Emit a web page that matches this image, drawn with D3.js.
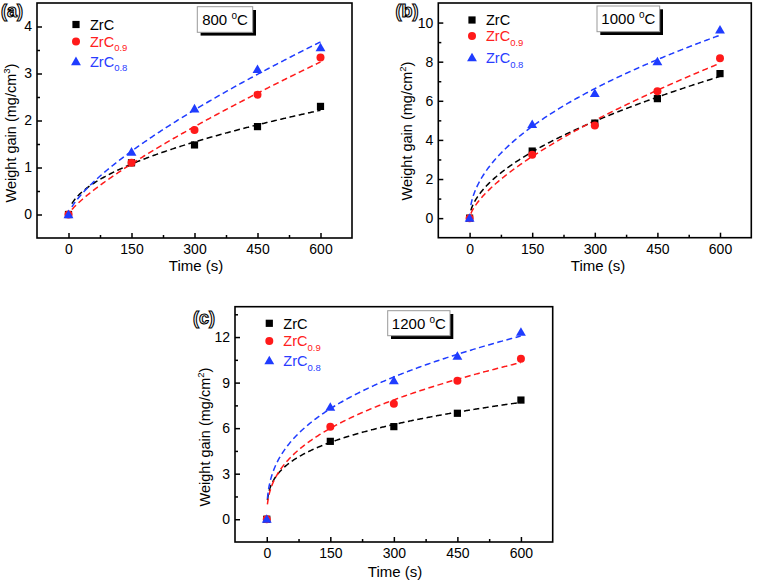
<!DOCTYPE html>
<html><head><meta charset="utf-8">
<script src="https://cdn.jsdelivr.net/npm/d3@7/dist/d3.min.js"></script>
<style>body{margin:0;background:#fff}svg{display:block}text{font-family:"Liberation Sans",Arial,sans-serif}</style>
</head><body>
<script>
// ---------- data ----------
const times = [0, 150, 300, 450, 600];
const seriesNames = ["ZrC", "ZrC", "ZrC"];
const seriesSubs = ["", "0.9", "0.8"];
const temps = ["800", "1000", "1200"];
const panelLetters = ["(a)", "(b)", "(c)"];
const yUnitsSup = ["3", "2", "2"];
const xTicks = [0, 150, 300, 450, 600];
const yTicksA = [0, 1, 2, 3, 4];
const yTicksB = [0, 2, 4, 6, 8, 10];
const yTicksC = [0, 3, 6, 9, 12];
// 800 °C
const a_ZrC = [0, 1.10, 1.48, 1.87, 2.30];
const a_ZrC09 = [0, 1.10, 1.80, 2.55, 3.34];
const a_ZrC08 = [0, 1.33, 2.25, 3.09, 3.55];
// 1000 °C
const b_ZrC = [0, 3.43, 4.86, 6.11, 7.39];
const b_ZrC09 = [0, 3.24, 4.74, 6.49, 8.18];
const b_ZrC08 = [0, 4.79, 6.38, 8.00, 9.63];
// 1200 °C
const c_ZrC = [0, 5.13, 6.10, 6.98, 7.85];
const c_ZrC09 = [0, 6.10, 7.61, 9.13, 10.57];
const c_ZrC08 = [0, 7.39, 9.13, 10.75, 12.33];

// ---------- layout / style ----------
const colors = ["#000000", "#ff1a1a", "#1f3cff"];
const textColors = ["#000000", "#ff2020", "#2a3cff"];
const panels = [
  {x0: 37, x1: 352, y0: 3, y1: 238, yDom: [-0.5, 4.5], yTicks: yTicksA, yMinorStep: 0.5,
   data: [a_ZrC, a_ZrC09, a_ZrC08], tStart: 8,
   legX: 76, legY: [24.5, 41.5, 61.5], box: [197.3, 6.7, 55.4, 25.6],
   label: [12, 17], yTitle: [15.5, 133], xTitle: [196, 270.5]},
  {x0: 438.3, x1: 751.3, y0: 3, y1: 237.7, yDom: [-1, 11], yTicks: yTicksB, yMinorStep: 1,
   data: [b_ZrC, b_ZrC09, b_ZrC08], tStart: 3,
   legX: 472, legY: [20, 36, 57.7], box: [597, 6, 62.7, 25.7],
   label: [407, 17], yTitle: [411.5, 131], xTitle: [598, 270.5]},
  {x0: 235, x1: 552.7, y0: 306.7, y1: 542, yDom: [-1.5, 14], yTicks: yTicksC, yMinorStep: 1.5,
   data: [c_ZrC, c_ZrC09, c_ZrC08], tStart: 1.5,
   legX: 269.3, legY: [323.3, 341, 360.7], box: [387.7, 310.7, 62.3, 25],
   label: [204, 324], yTitle: [210, 437], xTitle: [395, 576.5]}
];

const svg = d3.select("body").append("svg").attr("width", 758).attr("height", 582);
svg.append("rect").attr("width", 758).attr("height", 582).attr("fill", "#fff");

function marker(g, i, x, y) {
  if (i === 0) {
    g.append("rect").attr("x", x - 3.6).attr("y", y - 3.6).attr("width", 7.2).attr("height", 7.2).attr("fill", colors[0]);
  } else if (i === 1) {
    g.append("circle").attr("cx", x).attr("cy", y).attr("r", 4).attr("fill", colors[1]);
  } else {
    g.append("path").attr("d", d3.symbol().type(d3.symbolTriangle).size(42)()).attr("transform", `translate(${x},${y + 0.8})`).attr("fill", colors[2]);
  }
}

function powerFit(ts, vs) {
  const pts = ts.map((t, i) => [t, vs[i]]).filter(p => p[0] > 0 && p[1] > 0);
  const lx = pts.map(p => Math.log(p[0])), ly = pts.map(p => Math.log(p[1]));
  const mx = d3.mean(lx), my = d3.mean(ly);
  const n = d3.sum(lx.map((v, i) => (v - mx) * (ly[i] - my))) / d3.sum(lx.map(v => (v - mx) ** 2));
  const a = Math.exp(my - n * mx);
  return t => a * Math.pow(t, n);
}

panels.forEach((p, pi) => {
  const x = d3.scaleLinear().domain([-75, 675]).range([p.x0, p.x1]);
  const y = d3.scaleLinear().domain(p.yDom).range([p.y1, p.y0]);
  const g = svg.append("g");

  // minor ticks
  const xMinor = d3.range(-75, 676, 75).filter(v => !xTicks.includes(v) && v > -75 && v < 675);
  const yMinor = d3.range(Math.ceil(p.yDom[0] / p.yMinorStep) * p.yMinorStep, p.yDom[1] + 1e-9, p.yMinorStep)
    .filter(v => !p.yTicks.some(t => Math.abs(t - v) < 1e-9) && v > p.yDom[0] + 1e-9 && v < p.yDom[1] - 1e-9);

  const ax = g.append("g").attr("transform", `translate(0,${p.y1})`)
    .call(d3.axisBottom(x).tickValues(xTicks).tickSize(-5).tickPadding(6).tickFormat(d3.format("d")));
  g.append("g").attr("transform", `translate(0,${p.y1})`).call(d3.axisBottom(x).tickValues(xMinor).tickSize(-3).tickFormat(""));
  const ay = g.append("g").attr("transform", `translate(${p.x0},0)`)
    .call(d3.axisLeft(y).tickValues(p.yTicks).tickSize(-5).tickPadding(5).tickFormat(d3.format("d")));
  g.append("g").attr("transform", `translate(${p.x0},0)`).call(d3.axisLeft(y).tickValues(yMinor).tickSize(-3).tickFormat(""));
  g.selectAll(".domain").remove();
  g.selectAll(".tick line").attr("stroke", "#000").attr("stroke-width", 1.5);
  g.selectAll(".tick text").attr("font-size", 14).attr("fill", "#000").attr("font-family", '"Liberation Sans",Arial,sans-serif');

  // frame
  g.append("rect").attr("x", p.x0).attr("y", p.y0).attr("width", p.x1 - p.x0).attr("height", p.y1 - p.y0)
    .attr("fill", "none").attr("stroke", "#000").attr("stroke-width", 1.6);

  // fitted dashed curves
  p.data.forEach((vals, si) => {
    const f = powerFit(times, vals);
    const ts = d3.range(p.tStart, 600.01, 2);
    const line = d3.line().x(t => x(t)).y(t => y(f(t)));
    g.append("path").attr("d", line(ts)).attr("fill", "none").attr("stroke", colors[si])
      .attr("stroke-width", 1.5).attr("stroke-dasharray", "6,3.5");
  });
  // markers
  p.data.forEach((vals, si) => {
    vals.forEach((v, i) => marker(g, si, x(times[i]), y(v)));
  });

  // legend
  p.legY.forEach((ly, si) => {
    marker(g, si, p.legX, ly);
    const t = g.append("text").attr("x", p.legX + 14).attr("y", ly + 5.3).attr("font-size", 14.5).attr("fill", textColors[si]);
    t.append("tspan").text(seriesNames[si]);
    if (seriesSubs[si]) t.append("tspan").attr("font-size", 9.5).attr("dy", 4.5).text(seriesSubs[si]);
  });

  // temperature box
  const [bx, by, bw, bh] = p.box;
  g.append("rect").attr("x", bx + 3.3).attr("y", by + 3.3).attr("width", bw).attr("height", bh).attr("fill", "#000");
  g.append("rect").attr("x", bx).attr("y", by).attr("width", bw).attr("height", bh).attr("fill", "#fff").attr("stroke", "#999").attr("stroke-width", 1);
  const tt = g.append("text").attr("x", bx + bw / 2).attr("y", by + bh / 2 + 5.5).attr("text-anchor", "middle").attr("font-size", 15).attr("fill", "#000");
  tt.append("tspan").text(temps[pi] + " ");
  tt.append("tspan").attr("font-size", 10).attr("dy", -6).text("o");
  tt.append("tspan").attr("dy", 6).text("C");

  // panel letter (outlined)
  g.append("text").attr("x", p.label[0]).attr("y", p.label[1]).attr("text-anchor", "middle")
    .attr("font-size", 18).attr("font-weight", "bold").attr("fill", "#fff").attr("stroke", "#000").attr("stroke-width", 1.1)
    .text(panelLetters[pi]);

  // axis titles
  g.append("text").attr("x", p.xTitle[0]).attr("y", p.xTitle[1]).attr("text-anchor", "middle").attr("font-size", 15).attr("fill", "#000").text("Time (s)");
  const yt = g.append("text").attr("transform", `translate(${p.yTitle[0]},${p.yTitle[1]}) rotate(-90)`)
    .attr("text-anchor", "middle").attr("font-size", 14.5).attr("fill", "#000");
  yt.append("tspan").text("Weight gain (mg/cm");
  yt.append("tspan").attr("font-size", 9.5).attr("dy", -6).text(yUnitsSup[pi]);
  yt.append("tspan").attr("dy", 6).text(")");
});
</script>
</body></html>
